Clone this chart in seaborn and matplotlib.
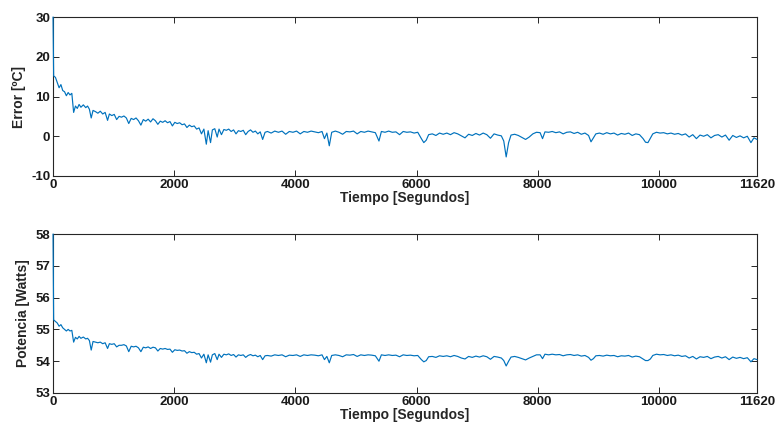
import numpy as np
import pandas as pd
import matplotlib
matplotlib.use("Agg")
import matplotlib.pyplot as plt
import seaborn as sns

# Tiempo de muestreo [s]
tiempo = [
    0, 10, 40, 70, 100, 130, 160, 190, 220, 250, 280, 310, 340, 370, 400, 430, 460, 500,
    540, 570, 600, 630, 660, 700, 740, 780, 820, 860, 900, 930, 970, 1010, 1050, 1090,
    1130, 1170, 1210, 1250, 1290, 1330, 1370, 1410, 1450, 1490, 1530, 1570, 1610, 1650,
    1690, 1730, 1770, 1810, 1850, 1890, 1930, 1970, 2010, 2050, 2090, 2130, 2170, 2210,
    2250, 2290, 2330, 2370, 2410, 2450, 2490, 2530, 2560, 2600, 2630, 2670, 2710, 2740,
    2780, 2820, 2860, 2900, 2940, 2980, 3020, 3060, 3100, 3140, 3180, 3220, 3260, 3300,
    3340, 3380, 3420, 3460, 3500, 3540, 3600, 3660, 3720, 3780, 3840, 3900, 3960, 4020,
    4080, 4140, 4200, 4260, 4320, 4380, 4440, 4480, 4520, 4560, 4600, 4660, 4720, 4780,
    4840, 4900, 4960, 5020, 5080, 5140, 5200, 5260, 5320, 5380, 5420, 5480, 5540, 5600,
    5660, 5720, 5780, 5840, 5900, 5960, 6020, 6080, 6120, 6160, 6200, 6260, 6320, 6380,
    6440, 6500, 6560, 6620, 6680, 6740, 6800, 6860, 6920, 6980, 7040, 7100, 7160, 7220,
    7280, 7340, 7400, 7440, 7480, 7520, 7560, 7620, 7680, 7740, 7800, 7860, 7920, 7980,
    8040, 8080, 8120, 8180, 8240, 8300, 8360, 8420, 8480, 8540, 8600, 8660, 8720, 8780,
    8840, 8880, 8920, 8960, 9020, 9080, 9140, 9200, 9260, 9320, 9380, 9440, 9500, 9560,
    9620, 9680, 9740, 9780, 9820, 9860, 9900, 9960, 10020, 10080, 10140, 10200, 10260,
    10320, 10380, 10440, 10500, 10560, 10620, 10680, 10740, 10800, 10860, 10920, 10980,
    11040, 11100, 11160, 11220, 11280, 11340, 11400, 11460, 11520, 11570, 11620,
]

# Error de temperatura [ºC]
error = [
    30.0, 15.2, 14.8, 13.5, 12.2, 13.0, 11.5, 11.2, 10.2, 11.0, 10.4, 10.8, 6.0, 7.6, 7.0, 8.0, 7.3, 7.9,
    7.2, 7.6, 6.8, 4.6, 6.5, 6.2, 5.8, 6.3, 5.6, 6.0, 4.0, 5.6, 5.2, 5.5, 4.2, 5.0,
    4.8, 5.1, 4.6, 3.2, 4.5, 4.2, 4.6, 3.9, 2.8, 4.2, 3.8, 4.3, 3.6, 4.4,
    3.9, 3.0, 3.8, 3.5, 3.9, 3.4, 3.7, 2.6, 3.5, 3.2, 3.4, 2.9, 3.1, 2.2,
    2.8, 2.4, 2.6, 1.8, 2.1, 0.6, 1.8, -2.0, 1.4, -1.6, 1.6, 1.9, -0.2, 1.8,
    0.4, 1.7, 1.5, 1.8, 1.2, 1.6, 0.6, 1.4, 1.2, 1.5, 0.4, 1.2, 1.6, 1.0,
    1.3, 0.6, 1.1, -0.8, 1.0, 1.2, 0.8, 1.3, 1.0, 1.3, 0.5, 1.2, 1.0, 1.3,
    0.6, 1.2, 1.0, 1.3, 1.1, 0.9, 1.2, -0.6, 0.8, -2.4, 1.0, 1.3, 1.0, 0.5,
    1.2, 1.1, 1.3, 0.6, 1.2, 1.0, 1.3, 1.1, 0.9, -1.2, 1.2, 1.0, 1.3, 1.0,
    1.1, 0.4, 1.2, 1.0, 1.1, 0.8, 1.0, -0.6, -1.6, -1.0, 0.4, 0.6, 0.2, 0.8,
    0.5, 0.8, 0.4, 0.9, 0.6, 0.1, -0.4, 0.5, 0.2, 0.7, 0.3, 0.8, 0.4, -0.5,
    0.6, 0.3, 0.1, -1.2, -5.2, -1.6, 0.3, 0.5, 0.2, -0.3, -0.8, -0.2, 0.6, 1.0,
    0.9, -0.6, 1.1, 1.0, 1.2, 0.9, 1.1, 0.6, 1.0, 1.1, 0.7, 1.0, 0.5, 0.8,
    0.2, -1.4, -0.4, 0.6, 0.8, 0.5, 0.9, 0.6, 0.8, 0.3, 0.7, 0.5, 0.8, 0.2,
    0.6, 0.4, -0.6, -1.5, -1.6, -0.5, 0.6, 1.0, 0.8, 0.9, 0.6, 0.8, 0.5,
    0.7, 0.3, 0.6, -0.2, 0.4, -0.6, 0.3, 0.0, 0.4, -0.4, 0.2, 0.4,
    -0.2, 0.3, -1.0, 0.2, -0.3, 0.1, -0.4, 0.0, -1.6, -0.4, -0.8,
]

# Potencia aplicada [W]
potencia = [
    58.0, 55.3, 55.25, 55.2, 55.1, 55.15, 55.05, 55.0, 54.95, 55.0, 54.95, 54.97, 54.6, 54.75, 54.7, 54.78, 54.72, 54.76,
    54.7, 54.72, 54.65, 54.35, 54.62, 54.6, 54.58, 54.6, 54.55, 54.58, 54.4, 54.55, 54.53, 54.55, 54.45, 54.5,
    54.5, 54.52, 54.48, 54.3, 54.47, 54.45, 54.47, 54.42, 54.3, 54.44, 54.42, 54.45, 54.4, 54.44,
    54.42, 54.32, 54.4, 54.38, 54.4, 54.37, 54.38, 54.28, 54.36, 54.34, 54.35, 54.32, 54.33, 54.25,
    54.3, 54.27, 54.28, 54.22, 54.24, 54.1, 54.22, 53.95, 54.2, 53.97, 54.2, 54.24, 54.05, 54.22,
    54.12, 54.22, 54.2, 54.23, 54.18, 54.21, 54.13, 54.2, 54.18, 54.2, 54.12, 54.18, 54.21, 54.17,
    54.19, 54.14, 54.18, 54.05, 54.17, 54.18, 54.16, 54.2, 54.18, 54.2, 54.14, 54.19, 54.18, 54.2,
    54.15, 54.2, 54.18, 54.2, 54.19, 54.17, 54.2, 54.05, 54.15, 53.95, 54.18, 54.2, 54.18, 54.14,
    54.2, 54.19, 54.21, 54.15, 54.2, 54.18, 54.2, 54.19, 54.17, 54.0, 54.2, 54.18, 54.2, 54.18,
    54.19, 54.14, 54.2, 54.18, 54.19, 54.17, 54.18, 54.05, 53.98, 54.02, 54.14, 54.15, 54.12, 54.17,
    54.15, 54.17, 54.14, 54.18, 54.15, 54.1, 54.07, 54.15, 54.12, 54.16, 54.13, 54.17, 54.14, 54.06,
    54.15, 54.13, 54.1, 54.02, 53.85, 54.0, 54.13, 54.15, 54.12, 54.08, 54.04, 54.1, 54.15, 54.2,
    54.2, 54.08, 54.22, 54.2, 54.22, 54.2, 54.21, 54.17, 54.2, 54.21, 54.18, 54.2, 54.16, 54.18,
    54.12, 54.03, 54.08, 54.17, 54.18, 54.16, 54.19, 54.17, 54.18, 54.14, 54.17, 54.16, 54.18, 54.13,
    54.16, 54.14, 54.07, 54.02, 54.02, 54.07, 54.18, 54.22, 54.2, 54.21, 54.18, 54.2, 54.17,
    54.19, 54.15, 54.17, 54.1, 54.15, 54.07, 54.14, 54.12, 54.15, 54.08, 54.13, 54.15,
    54.1, 54.14, 54.05, 54.13, 54.09, 54.12, 54.08, 54.11, 53.98, 54.08, 54.05,
]

xticks = [0, 2000, 4000, 6000, 8000, 10000, 11620]
yticks_error = [-10, 0, 10, 20, 30]
yticks_potencia = [53, 54, 55, 56, 57, 58]

df = pd.DataFrame({"Tiempo": tiempo, "Error": error, "Potencia": potencia})

sns.set_theme(style="white")
plt.rcParams["font.family"] = ["Liberation Sans", "DejaVu Sans"]
plt.rcParams["font.weight"] = "bold"

line_color = "#0072BD"
frame_color = "#262626"

fig = plt.figure(figsize=(7.8, 4.32), dpi=100)
ax1 = fig.add_axes([0.068, 0.5926, 0.9025, 0.368])
ax2 = fig.add_axes([0.068, 0.0903, 0.9025, 0.368])

sns.lineplot(data=df, x="Tiempo", y="Error", ax=ax1, color=line_color, linewidth=0.85)
sns.lineplot(data=df, x="Tiempo", y="Potencia", ax=ax2, color=line_color, linewidth=0.85)

panels = [
    (ax1, yticks_error, "Error [ºC]"),
    (ax2, yticks_potencia, "Potencia [Watts]"),
]
for ax, yt, ylab in panels:
    # keep the trace above the frame so the start transient at t=0 stays visible
    for ln in ax.get_lines():
        ln.set_zorder(3)
        ln.set_clip_on(False)
    ax.set_xlim(xticks[0], xticks[-1])
    ax.set_ylim(yt[0], yt[-1])
    ax.set_xticks(xticks)
    ax.set_yticks(yt)
    ax.set_xticklabels([str(v) for v in xticks], fontsize=9.5, fontweight="bold")
    ax.set_yticklabels([str(v) for v in yt], fontsize=9.5, fontweight="bold")
    ax.set_xlabel("Tiempo [Segundos]", fontsize=10, fontweight="bold", labelpad=0)
    ax.set_ylabel(ylab, fontsize=10, fontweight="bold", labelpad=4)
    ax.tick_params(axis="both", direction="in", length=4, width=0.7,
                   top=True, right=True, bottom=True, left=True,
                   color=frame_color, labelcolor="#1a1a1a", pad=2)
    for s in ax.spines.values():
        s.set_visible(True)
        s.set_color(frame_color)
        s.set_linewidth(0.8)
    ax.grid(False)

fig.savefig("out.png", dpi=100, facecolor="white")
